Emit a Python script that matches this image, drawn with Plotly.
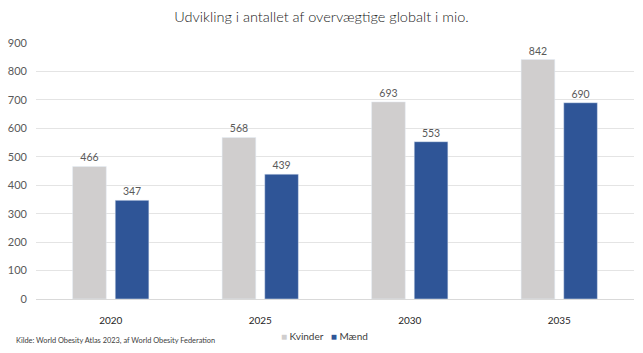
import plotly.graph_objects as go

years = ["2020", "2025", "2030", "2035"]
kvinder = [466, 568, 693, 842]
maend = [347, 439, 553, 690]
series_names = ["Kvinder", "Mænd"]
colors = ["#D0CECE", "#2F5597"]
title = "Udvikling i antallet af overvægtige globalt i mio."
source = "Kilde: World Obesity Atlas 2023, af World Obesity Federation"

W, H = 643, 353
L, R, T, B = 36, 9, 43, 54
PW, PH = W - L - R, H - T - B


def px_x(px):
    return (px - L) / PW


def px_y(py):
    return (H - B - py) / PH


fig = go.Figure()
for name, vals, col in zip(series_names, [kvinder, maend], colors):
    fig.add_trace(go.Bar(x=years, y=vals, name=name, marker_color=col,
                         text=vals, textposition="outside", cliponaxis=False,
                         textfont=dict(size=10.5, color="#595959")))

fig.update_layout(
    width=W, height=H,
    margin=dict(l=L, r=R, t=T, b=B),
    paper_bgcolor="white", plot_bgcolor="white",
    font=dict(family="Lato, sans-serif", color="#595959"),
    title=dict(text=title, x=0.5, xanchor="center", y=0.953, yanchor="middle",
               font=dict(size=14.5, color="#1a1a1a", weight=300)),
    barmode="group", bargap=0.43, bargroupgap=0.21,
    showlegend=False,
    xaxis=dict(showgrid=False, showline=True, linecolor="#D9D9D9", linewidth=1,
               ticks="", ticklabelstandoff=12,
               tickfont=dict(size=10, color="#262626")),
    yaxis=dict(range=[0, 900], dtick=100, showgrid=True, gridcolor="#E4E4E4",
               zeroline=False, ticks="", ticklabelstandoff=8,
               tickfont=dict(size=11, color="#595959")),
)

legend_text = "   ".join(
    f"<span style='color:{c}'>■</span> {n}" for n, c in zip(series_names, colors)
)
fig.add_annotation(text=legend_text, x=px_x(279), xref="paper", xanchor="left",
                   y=px_y(336), yref="paper", yanchor="middle",
                   showarrow=False, font=dict(size=10, color="#404040"))
fig.add_annotation(text=source, x=px_x(14), xref="paper", xanchor="left",
                   y=px_y(340), yref="paper", yanchor="middle",
                   showarrow=False, font=dict(size=7.4, color="#404040"))

fig.write_html("out.html")
